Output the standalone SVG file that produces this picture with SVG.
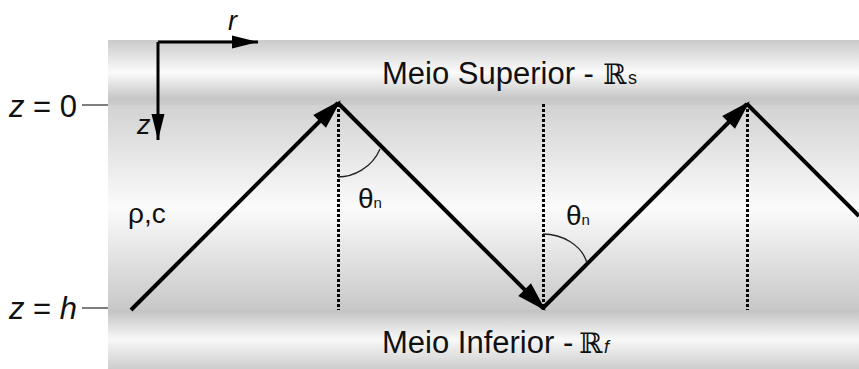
<svg xmlns="http://www.w3.org/2000/svg" width="859" height="369" viewBox="0 0 859 369">
<defs>
<linearGradient id="gTop" x1="0" y1="0" x2="0" y2="1">
<stop offset="0" stop-color="#cacaca"/>
<stop offset="0.5" stop-color="#fbfbfb"/>
<stop offset="0.9" stop-color="#c6c6c6"/>
<stop offset="1" stop-color="#cccccc"/>
</linearGradient>
<linearGradient id="gMid" x1="0" y1="0" x2="0" y2="1">
<stop offset="0" stop-color="#d2d2d2"/>
<stop offset="0.5" stop-color="#fbfbfb"/>
<stop offset="1" stop-color="#c8c8c8"/>
</linearGradient>
<linearGradient id="gBot" x1="0" y1="0" x2="0" y2="1">
<stop offset="0" stop-color="#c2c2c2"/>
<stop offset="0.5" stop-color="#f8f8f8"/>
<stop offset="1" stop-color="#cdcdcd"/>
</linearGradient>
<marker id="big" markerUnits="userSpaceOnUse" markerWidth="34" markerHeight="22" viewBox="-30 -11 34 22" refX="0" refY="0" orient="auto">
<path d="M4,0 L-26,-9 L-26,9 Z" fill="#000"/>
</marker>
<marker id="small" markerUnits="userSpaceOnUse" markerWidth="30" markerHeight="16" viewBox="-27 -8 30 16" refX="0" refY="0" orient="auto">
<path d="M0,0 L-26,-6.5 L-26,6.5 Z" fill="#000"/>
</marker>
<style>
text{font-family:"Liberation Sans",Arial,sans-serif;fill:#111}
.lbl{font-size:31px}
.it{font-style:italic}
.bb{font-family:"DejaVu Serif","DejaVu Sans",serif;font-size:28px}
.ray{stroke:#000;stroke-width:4;fill:none}
.axis{stroke:#000;stroke-width:3;fill:none}
.norm{stroke:#000;stroke-width:3;stroke-dasharray:3 2;fill:none}
.arc{stroke:#222;stroke-width:1.3;fill:none}
.tick{stroke:#555;stroke-width:1.5}
</style>
</defs>

<g id="background">
<rect x="108" y="40" width="751" height="65" fill="url(#gTop)"/>
<rect x="108" y="105" width="751" height="205" fill="url(#gMid)"/>
<rect x="108" y="310" width="751" height="59" fill="url(#gBot)"/>
</g>

<g id="upper-medium">
<text class="lbl" x="382" y="84">Meio Superior -</text>
<text class="bb" x="603" y="84">ℝ</text>
<text x="628" y="84" font-size="18">s</text>
</g>

<g id="lower-medium">
<text class="lbl" x="382" y="353">Meio Inferior -</text>
<text class="bb" x="579" y="353">ℝ</text>
<text class="it" x="604" y="353" font-size="18" font-family="DejaVu Serif, serif">f</text>
</g>

<g id="boundary-labels">
<line class="tick" x1="82" y1="105" x2="108" y2="105"/>
<text class="lbl" x="9" y="117"><tspan class="it">z</tspan> = 0</text>
<line class="tick" x1="82" y1="308" x2="108" y2="308"/>
<text class="lbl" x="9" y="319"><tspan class="it">z</tspan> = <tspan class="it">h</tspan></text>
</g>

<g id="axes">
<path class="axis" d="M158,42 L258,42" marker-end="url(#small)"/>
<path class="axis" d="M158,42 L158,140" marker-end="url(#small)"/>
<text class="it" x="228" y="30" font-size="27">r</text>
<text class="it" x="137" y="134" font-size="27">z</text>
</g>

<g id="medium-label">
<text x="128" y="223" font-size="28">ρ,c</text>
</g>

<g id="connectors">
<path class="norm" d="M338.5,104 L338.5,310"/>
<path class="norm" d="M543.5,104 L543.5,310"/>
<path class="norm" d="M747.5,104 L747.5,310"/>
<path class="ray" d="M131,310 L338,103" marker-end="url(#big)"/>
<path class="ray" d="M338,103 L543,308" marker-end="url(#big)"/>
<path class="ray" d="M543,308 L747,104" marker-end="url(#big)"/>
<path class="ray" d="M747,104 L859,216"/>
<path class="arc" d="M338,177 C353,177 372,168 380,149"/>
<path class="arc" d="M543,234 C562,234 582,245 587,263"/>
</g>

<g id="angle-labels">
<text x="358" y="208" font-size="28">θ<tspan font-size="15">n</tspan></text>
<text x="566" y="225" font-size="28">θ<tspan font-size="15">n</tspan></text>
</g>
</svg>
